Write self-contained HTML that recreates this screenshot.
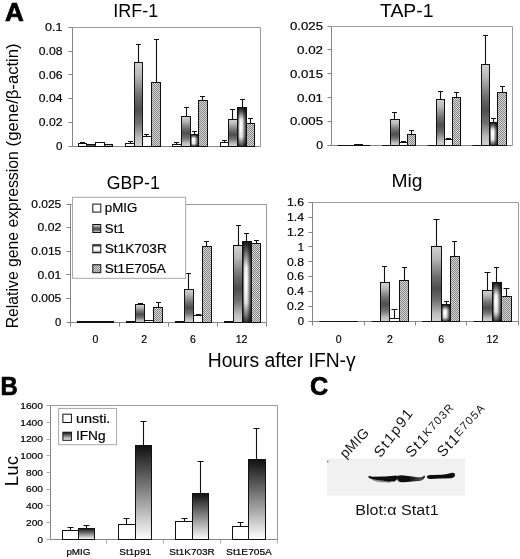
<!DOCTYPE html><html><head><meta charset="utf-8"><style>html,body{margin:0;padding:0;background:#fff;}svg{display:block;filter:grayscale(100%);}text{font-family:"Liberation Sans", sans-serif;} .v{stroke:#000;stroke-width:0.18px;paint-order:stroke;}</style></head><body>
<svg width="520" height="559" viewBox="0 0 520 559">
<defs>
<linearGradient id="gSt1" x1="0" y1="0" x2="0" y2="1">
<stop offset="0" stop-color="#d2d2d2"/><stop offset="0.15" stop-color="#bababa"/><stop offset="0.4" stop-color="#6e6e6e"/><stop offset="0.56" stop-color="#4e4e4e"/><stop offset="0.72" stop-color="#707070"/><stop offset="0.9" stop-color="#bebebe"/><stop offset="1" stop-color="#d4d4d4"/></linearGradient>
<linearGradient id="gK" x1="0" y1="0" x2="0" y2="1">
<stop offset="0" stop-color="#151515"/><stop offset="0.12" stop-color="#606060"/><stop offset="0.32" stop-color="#f0f0f0"/><stop offset="0.5" stop-color="#ffffff"/><stop offset="0.75" stop-color="#e6e6e6"/><stop offset="0.92" stop-color="#707070"/><stop offset="1" stop-color="#303030"/></linearGradient>
<linearGradient id="gKh" x1="0" y1="0" x2="1" y2="0">
<stop offset="0" stop-color="#000" stop-opacity="0.95"/><stop offset="0.25" stop-color="#000" stop-opacity="0"/><stop offset="0.5" stop-color="#000" stop-opacity="0"/><stop offset="1" stop-color="#000" stop-opacity="0.9"/></linearGradient>
<pattern id="pE" width="2" height="2" patternUnits="userSpaceOnUse">
<rect width="2" height="2" fill="#d8d8d8"/><rect width="1" height="1" fill="#858585"/><rect x="1" y="1" width="1" height="1" fill="#858585"/></pattern>
<linearGradient id="gIFN" x1="0" y1="0" x2="0" y2="1">
<stop offset="0" stop-color="#101010"/><stop offset="1" stop-color="#ffffff"/></linearGradient>
<filter id="blur1" x="-20%" y="-50%" width="140%" height="200%"><feGaussianBlur stdDeviation="0.6"/></filter>
<linearGradient id="gL2" x1="0" y1="0" x2="1" y2="0"><stop offset="0" stop-color="#111"/><stop offset="0.45" stop-color="#111"/><stop offset="0.85" stop-color="#4a4a4a"/><stop offset="1" stop-color="#222"/></linearGradient>
</defs>
<rect width="520" height="559" fill="#fff"/>
<text x="4.9" y="20.6" font-size="25.5" text-anchor="start" font-weight="bold" fill="#000" textLength="18.8" lengthAdjust="spacingAndGlyphs" stroke="#000" stroke-width="0.7">A</text>
<text x="135.75" y="16.9" font-size="19" text-anchor="middle" font-weight="normal" fill="#000" textLength="45" lengthAdjust="spacingAndGlyphs" >IRF-1</text>
<text x="406.75" y="16.8" font-size="19" text-anchor="middle" font-weight="normal" fill="#000" textLength="53.5" lengthAdjust="spacingAndGlyphs" >TAP-1</text>
<text x="133.25" y="188.8" font-size="19" text-anchor="middle" font-weight="normal" fill="#000" textLength="53" lengthAdjust="spacingAndGlyphs" >GBP-1</text>
<text x="406.9" y="186.6" font-size="19" text-anchor="middle" font-weight="normal" fill="#000" textLength="31" lengthAdjust="spacingAndGlyphs" >Mig</text>
<path d="M72.5 27.5H260.5V146.5" fill="none" stroke="#9a9a9a" stroke-width="1"/>
<path d="M72.5 27.5V146.5" stroke="#858585" stroke-width="1" fill="none"/>
<path d="M72.5 146.5H260.5" stroke="#858585" stroke-width="1" fill="none"/>
<path d="M68.5 146.50H72.5" stroke="#858585" stroke-width="1"/>
<text x="62.5" y="149.80" font-size="11" text-anchor="end" font-weight="normal" fill="#000" textLength="6.5" lengthAdjust="spacingAndGlyphs" class="v">0</text>
<path d="M68.5 122.50H72.5" stroke="#858585" stroke-width="1"/>
<text x="62.5" y="126.10" font-size="11" text-anchor="end" font-weight="normal" fill="#000" textLength="23.7" lengthAdjust="spacingAndGlyphs" class="v">0.02</text>
<path d="M68.5 98.50H72.5" stroke="#858585" stroke-width="1"/>
<text x="62.5" y="102.40" font-size="11" text-anchor="end" font-weight="normal" fill="#000" textLength="23.7" lengthAdjust="spacingAndGlyphs" class="v">0.04</text>
<path d="M68.5 74.50H72.5" stroke="#858585" stroke-width="1"/>
<text x="62.5" y="78.70" font-size="11" text-anchor="end" font-weight="normal" fill="#000" textLength="23.7" lengthAdjust="spacingAndGlyphs" class="v">0.06</text>
<path d="M68.5 51.50H72.5" stroke="#858585" stroke-width="1"/>
<text x="62.5" y="55.00" font-size="11" text-anchor="end" font-weight="normal" fill="#000" textLength="23.7" lengthAdjust="spacingAndGlyphs" class="v">0.08</text>
<path d="M68.5 27.50H72.5" stroke="#858585" stroke-width="1"/>
<text x="62.5" y="31.30" font-size="11" text-anchor="end" font-weight="normal" fill="#000" textLength="17.5" lengthAdjust="spacingAndGlyphs" class="v">0.1</text>
<rect x="78.50" y="143.50" width="8.00" height="3.00" fill="#fff" stroke="#111" stroke-width="1"/>
<path d="M82.50 143.50V142.50M80.00 142.50H85.00" stroke="#111" stroke-width="1.1" fill="none"/>
<rect x="86.50" y="144.50" width="9.00" height="2.00" fill="url(#gSt1)" stroke="#111" stroke-width="1"/>
<rect x="95.50" y="142.50" width="9.00" height="4.00" fill="#fff" stroke="#111" stroke-width="1"/>
<rect x="104.50" y="144.50" width="8.00" height="2.00" fill="url(#pE)" stroke="#111" stroke-width="1"/>
<rect x="125.50" y="143.50" width="9.00" height="3.00" fill="#fff" stroke="#111" stroke-width="1"/>
<path d="M130.50 143.50V141.50M128.00 141.50H133.00" stroke="#111" stroke-width="1.1" fill="none"/>
<rect x="134.50" y="62.50" width="8.00" height="84.00" fill="url(#gSt1)" stroke="#111" stroke-width="1"/>
<path d="M138.50 62.50V44.50M136.00 44.50H141.00" stroke="#111" stroke-width="1.1" fill="none"/>
<rect x="142.50" y="136.50" width="9.00" height="10.00" fill="#fff" stroke="#111" stroke-width="1"/>
<path d="M146.50 136.50V134.50M144.00 134.50H149.00" stroke="#111" stroke-width="1.1" fill="none"/>
<rect x="151.50" y="82.50" width="9.00" height="64.00" fill="url(#pE)" stroke="#111" stroke-width="1"/>
<path d="M156.50 82.50V39.50M154.00 39.50H159.00" stroke="#111" stroke-width="1.1" fill="none"/>
<rect x="172.50" y="144.50" width="9.00" height="2.00" fill="#fff" stroke="#111" stroke-width="1"/>
<path d="M176.50 144.50V142.50M174.00 142.50H179.00" stroke="#111" stroke-width="1.1" fill="none"/>
<rect x="181.50" y="116.50" width="9.00" height="30.00" fill="url(#gSt1)" stroke="#111" stroke-width="1"/>
<path d="M186.50 116.50V107.50M184.00 107.50H189.00" stroke="#111" stroke-width="1.1" fill="none"/>
<rect x="190.50" y="134.50" width="8.00" height="12.00" fill="url(#gK)"/>
<rect x="190.50" y="134.50" width="8.00" height="12.00" fill="url(#gKh)" stroke="#111" stroke-width="1"/>
<path d="M194.50 134.50V131.50M192.00 131.50H197.00" stroke="#111" stroke-width="1.1" fill="none"/>
<rect x="198.50" y="100.50" width="9.00" height="46.00" fill="url(#pE)" stroke="#111" stroke-width="1"/>
<path d="M202.50 100.50V96.50M200.00 96.50H205.00" stroke="#111" stroke-width="1.1" fill="none"/>
<rect x="220.50" y="142.50" width="8.00" height="4.00" fill="#fff" stroke="#111" stroke-width="1"/>
<path d="M224.50 142.50V140.50M222.00 140.50H227.00" stroke="#111" stroke-width="1.1" fill="none"/>
<rect x="228.50" y="119.50" width="9.00" height="27.00" fill="url(#gSt1)" stroke="#111" stroke-width="1"/>
<path d="M232.50 119.50V109.50M230.00 109.50H235.00" stroke="#111" stroke-width="1.1" fill="none"/>
<rect x="237.50" y="107.50" width="9.00" height="39.00" fill="url(#gK)"/>
<rect x="237.50" y="107.50" width="9.00" height="39.00" fill="url(#gKh)" stroke="#111" stroke-width="1"/>
<path d="M242.50 107.50V99.50M240.00 99.50H245.00" stroke="#111" stroke-width="1.1" fill="none"/>
<rect x="246.50" y="123.50" width="8.00" height="23.00" fill="url(#pE)" stroke="#111" stroke-width="1"/>
<path d="M250.50 123.50V118.50M248.00 118.50H253.00" stroke="#111" stroke-width="1.1" fill="none"/>
<path d="M331.5 26.5H512.5V145.5" fill="none" stroke="#9a9a9a" stroke-width="1"/>
<path d="M331.5 26.5V145.5" stroke="#858585" stroke-width="1" fill="none"/>
<path d="M331.5 145.5H512.5" stroke="#858585" stroke-width="1" fill="none"/>
<path d="M327.5 145.50H331.5" stroke="#858585" stroke-width="1"/>
<text x="323" y="149.40" font-size="11" text-anchor="end" font-weight="normal" fill="#000" textLength="6.8" lengthAdjust="spacingAndGlyphs" class="v">0</text>
<path d="M327.5 121.50H331.5" stroke="#858585" stroke-width="1"/>
<text x="323" y="125.48" font-size="11" text-anchor="end" font-weight="normal" fill="#000" textLength="33" lengthAdjust="spacingAndGlyphs" class="v">0.005</text>
<path d="M327.5 97.50H331.5" stroke="#858585" stroke-width="1"/>
<text x="323" y="101.56" font-size="11" text-anchor="end" font-weight="normal" fill="#000" textLength="26" lengthAdjust="spacingAndGlyphs" class="v">0.01</text>
<path d="M327.5 73.50H331.5" stroke="#858585" stroke-width="1"/>
<text x="323" y="77.64" font-size="11" text-anchor="end" font-weight="normal" fill="#000" textLength="33" lengthAdjust="spacingAndGlyphs" class="v">0.015</text>
<path d="M327.5 49.50H331.5" stroke="#858585" stroke-width="1"/>
<text x="323" y="53.72" font-size="11" text-anchor="end" font-weight="normal" fill="#000" textLength="26" lengthAdjust="spacingAndGlyphs" class="v">0.02</text>
<path d="M327.5 26.50H331.5" stroke="#858585" stroke-width="1"/>
<text x="323" y="29.80" font-size="11" text-anchor="end" font-weight="normal" fill="#000" textLength="33" lengthAdjust="spacingAndGlyphs" class="v">0.025</text>
<path d="M337.50 145.50H345.50" stroke="#111" stroke-width="1"/>
<path d="M345.50 145.50H354.50" stroke="#111" stroke-width="1"/>
<rect x="354.50" y="144.50" width="8.00" height="1.00" fill="#fff" stroke="#111" stroke-width="1"/>
<path d="M362.50 145.50H370.50" stroke="#111" stroke-width="1"/>
<path d="M382.50 145.50H390.50" stroke="#111" stroke-width="1"/>
<rect x="390.50" y="119.50" width="9.00" height="26.00" fill="url(#gSt1)" stroke="#111" stroke-width="1"/>
<path d="M394.50 119.50V112.50M392.00 112.50H397.00" stroke="#111" stroke-width="1.1" fill="none"/>
<rect x="399.50" y="142.50" width="8.00" height="3.00" fill="#fff" stroke="#111" stroke-width="1"/>
<path d="M403.50 142.50V141.50M401.00 141.50H406.00" stroke="#111" stroke-width="1.1" fill="none"/>
<rect x="407.50" y="134.50" width="8.00" height="11.00" fill="url(#pE)" stroke="#111" stroke-width="1"/>
<path d="M411.50 134.50V130.50M409.00 130.50H414.00" stroke="#111" stroke-width="1.1" fill="none"/>
<path d="M427.50 145.50H436.50" stroke="#111" stroke-width="1"/>
<rect x="436.50" y="99.50" width="8.00" height="46.00" fill="url(#gSt1)" stroke="#111" stroke-width="1"/>
<path d="M440.50 99.50V91.50M438.00 91.50H443.00" stroke="#111" stroke-width="1.1" fill="none"/>
<rect x="444.50" y="139.50" width="8.00" height="6.00" fill="#fff" stroke="#111" stroke-width="1"/>
<path d="M448.50 139.50V138.50M446.00 138.50H451.00" stroke="#111" stroke-width="1.1" fill="none"/>
<rect x="452.50" y="97.50" width="8.00" height="48.00" fill="url(#pE)" stroke="#111" stroke-width="1"/>
<path d="M456.50 97.50V92.50M454.00 92.50H459.00" stroke="#111" stroke-width="1.1" fill="none"/>
<path d="M472.50 145.50H481.50" stroke="#111" stroke-width="1"/>
<rect x="481.50" y="64.50" width="8.00" height="81.00" fill="url(#gSt1)" stroke="#111" stroke-width="1"/>
<path d="M485.50 64.50V35.50M483.00 35.50H488.00" stroke="#111" stroke-width="1.1" fill="none"/>
<rect x="489.50" y="122.50" width="8.00" height="23.00" fill="url(#gK)"/>
<rect x="489.50" y="122.50" width="8.00" height="23.00" fill="url(#gKh)" stroke="#111" stroke-width="1"/>
<path d="M493.50 122.50V118.50M491.00 118.50H496.00" stroke="#111" stroke-width="1.1" fill="none"/>
<rect x="497.50" y="92.50" width="9.00" height="53.00" fill="url(#pE)" stroke="#111" stroke-width="1"/>
<path d="M502.50 92.50V86.50M500.00 86.50H505.00" stroke="#111" stroke-width="1.1" fill="none"/>
<path d="M70.5 204.5H266.5V322.5" fill="none" stroke="#9a9a9a" stroke-width="1"/>
<path d="M70.5 204.5V326.5" stroke="#858585" stroke-width="1" fill="none"/>
<path d="M70.5 322.5H266.5" stroke="#858585" stroke-width="1" fill="none"/>
<path d="M66.5 322.50H70.5" stroke="#858585" stroke-width="1"/>
<text x="61.3" y="326.00" font-size="10.5" text-anchor="end" font-weight="normal" fill="#000" textLength="6.3" lengthAdjust="spacingAndGlyphs" class="v">0</text>
<path d="M66.5 298.50H70.5" stroke="#858585" stroke-width="1"/>
<text x="61.3" y="302.36" font-size="10.5" text-anchor="end" font-weight="normal" fill="#000" textLength="30" lengthAdjust="spacingAndGlyphs" class="v">0.005</text>
<path d="M66.5 274.50H70.5" stroke="#858585" stroke-width="1"/>
<text x="61.3" y="278.72" font-size="10.5" text-anchor="end" font-weight="normal" fill="#000" textLength="23.7" lengthAdjust="spacingAndGlyphs" class="v">0.01</text>
<path d="M66.5 251.50H70.5" stroke="#858585" stroke-width="1"/>
<text x="61.3" y="255.08" font-size="10.5" text-anchor="end" font-weight="normal" fill="#000" textLength="30" lengthAdjust="spacingAndGlyphs" class="v">0.015</text>
<path d="M66.5 227.50H70.5" stroke="#858585" stroke-width="1"/>
<text x="61.3" y="231.44" font-size="10.5" text-anchor="end" font-weight="normal" fill="#000" textLength="23.7" lengthAdjust="spacingAndGlyphs" class="v">0.02</text>
<path d="M66.5 204.50H70.5" stroke="#858585" stroke-width="1"/>
<text x="61.3" y="207.80" font-size="10.5" text-anchor="end" font-weight="normal" fill="#000" textLength="30" lengthAdjust="spacingAndGlyphs" class="v">0.025</text>
<path d="M119.50 322.5V326.5" stroke="#858585" stroke-width="1"/>
<path d="M168.50 322.5V326.5" stroke="#858585" stroke-width="1"/>
<path d="M217.50 322.5V326.5" stroke="#858585" stroke-width="1"/>
<path d="M266.50 322.5V326.5" stroke="#858585" stroke-width="1"/>
<rect x="77.50" y="321.50" width="9.00" height="1.00" fill="#fff" stroke="#111" stroke-width="1"/>
<rect x="86.50" y="321.50" width="9.00" height="1.00" fill="url(#gSt1)" stroke="#111" stroke-width="1"/>
<rect x="95.50" y="321.50" width="9.00" height="1.00" fill="#fff" stroke="#111" stroke-width="1"/>
<rect x="104.50" y="321.50" width="9.00" height="1.00" fill="url(#pE)" stroke="#111" stroke-width="1"/>
<rect x="126.50" y="321.50" width="9.00" height="1.00" fill="#fff" stroke="#111" stroke-width="1"/>
<rect x="135.50" y="304.50" width="9.00" height="18.00" fill="url(#gSt1)" stroke="#111" stroke-width="1"/>
<path d="M140.50 304.50V303.50M138.00 303.50H143.00" stroke="#111" stroke-width="1.1" fill="none"/>
<rect x="144.50" y="320.50" width="9.00" height="2.00" fill="#fff" stroke="#111" stroke-width="1"/>
<rect x="153.50" y="307.50" width="9.00" height="15.00" fill="url(#pE)" stroke="#111" stroke-width="1"/>
<path d="M158.50 307.50V302.50M156.00 302.50H161.00" stroke="#111" stroke-width="1.1" fill="none"/>
<rect x="175.50" y="321.50" width="9.00" height="1.00" fill="#fff" stroke="#111" stroke-width="1"/>
<rect x="184.50" y="289.50" width="9.00" height="33.00" fill="url(#gSt1)" stroke="#111" stroke-width="1"/>
<path d="M188.50 289.50V273.50M186.00 273.50H191.00" stroke="#111" stroke-width="1.1" fill="none"/>
<rect x="193.50" y="315.50" width="9.00" height="7.00" fill="#fff" stroke="#111" stroke-width="1"/>
<path d="M198.50 315.50V314.50M196.00 314.50H201.00" stroke="#111" stroke-width="1.1" fill="none"/>
<rect x="202.50" y="246.50" width="9.00" height="76.00" fill="url(#pE)" stroke="#111" stroke-width="1"/>
<path d="M206.50 246.50V241.50M204.00 241.50H209.00" stroke="#111" stroke-width="1.1" fill="none"/>
<rect x="224.50" y="321.50" width="9.00" height="1.00" fill="#fff" stroke="#111" stroke-width="1"/>
<rect x="233.50" y="245.50" width="9.00" height="77.00" fill="url(#gSt1)" stroke="#111" stroke-width="1"/>
<path d="M238.50 245.50V225.50M236.00 225.50H241.00" stroke="#111" stroke-width="1.1" fill="none"/>
<rect x="242.50" y="241.50" width="9.00" height="81.00" fill="url(#gK)"/>
<rect x="242.50" y="241.50" width="9.00" height="81.00" fill="url(#gKh)" stroke="#111" stroke-width="1"/>
<path d="M246.50 241.50V233.50M244.00 233.50H249.00" stroke="#111" stroke-width="1.1" fill="none"/>
<rect x="251.50" y="243.50" width="9.00" height="79.00" fill="url(#pE)" stroke="#111" stroke-width="1"/>
<path d="M256.50 243.50V240.50M254.00 240.50H259.00" stroke="#111" stroke-width="1.1" fill="none"/>
<path d="M312.5 202.5H518.5V321.5" fill="none" stroke="#9a9a9a" stroke-width="1"/>
<path d="M312.5 202.5V325.5" stroke="#858585" stroke-width="1" fill="none"/>
<path d="M312.5 321.5H518.5" stroke="#858585" stroke-width="1" fill="none"/>
<path d="M308.5 321.50H312.5" stroke="#858585" stroke-width="1"/>
<text x="304" y="325.00" font-size="10.5" text-anchor="end" font-weight="normal" fill="#000" textLength="6.3" lengthAdjust="spacingAndGlyphs" class="v">0</text>
<path d="M308.5 306.50H312.5" stroke="#858585" stroke-width="1"/>
<text x="304" y="310.14" font-size="10.5" text-anchor="end" font-weight="normal" fill="#000" textLength="17" lengthAdjust="spacingAndGlyphs" class="v">0.2</text>
<path d="M308.5 291.50H312.5" stroke="#858585" stroke-width="1"/>
<text x="304" y="295.28" font-size="10.5" text-anchor="end" font-weight="normal" fill="#000" textLength="17" lengthAdjust="spacingAndGlyphs" class="v">0.4</text>
<path d="M308.5 276.50H312.5" stroke="#858585" stroke-width="1"/>
<text x="304" y="280.41" font-size="10.5" text-anchor="end" font-weight="normal" fill="#000" textLength="17" lengthAdjust="spacingAndGlyphs" class="v">0.6</text>
<path d="M308.5 261.50H312.5" stroke="#858585" stroke-width="1"/>
<text x="304" y="265.55" font-size="10.5" text-anchor="end" font-weight="normal" fill="#000" textLength="17" lengthAdjust="spacingAndGlyphs" class="v">0.8</text>
<path d="M308.5 246.50H312.5" stroke="#858585" stroke-width="1"/>
<text x="304" y="250.69" font-size="10.5" text-anchor="end" font-weight="normal" fill="#000" textLength="6.3" lengthAdjust="spacingAndGlyphs" class="v">1</text>
<path d="M308.5 232.50H312.5" stroke="#858585" stroke-width="1"/>
<text x="304" y="235.83" font-size="10.5" text-anchor="end" font-weight="normal" fill="#000" textLength="17" lengthAdjust="spacingAndGlyphs" class="v">1.2</text>
<path d="M308.5 217.50H312.5" stroke="#858585" stroke-width="1"/>
<text x="304" y="220.96" font-size="10.5" text-anchor="end" font-weight="normal" fill="#000" textLength="17" lengthAdjust="spacingAndGlyphs" class="v">1.4</text>
<path d="M308.5 202.50H312.5" stroke="#858585" stroke-width="1"/>
<text x="304" y="206.10" font-size="10.5" text-anchor="end" font-weight="normal" fill="#000" textLength="17" lengthAdjust="spacingAndGlyphs" class="v">1.6</text>
<path d="M364.50 321.5V325.5" stroke="#858585" stroke-width="1"/>
<path d="M415.50 321.5V325.5" stroke="#858585" stroke-width="1"/>
<path d="M466.50 321.5V325.5" stroke="#858585" stroke-width="1"/>
<path d="M518.50 321.5V325.5" stroke="#858585" stroke-width="1"/>
<path d="M319.50 321.50H329.50" stroke="#111" stroke-width="1"/>
<path d="M329.50 321.50H338.50" stroke="#111" stroke-width="1"/>
<path d="M338.50 321.50H348.50" stroke="#111" stroke-width="1"/>
<path d="M348.50 321.50H357.50" stroke="#111" stroke-width="1"/>
<path d="M371.50 321.50H380.50" stroke="#111" stroke-width="1"/>
<rect x="380.50" y="282.50" width="9.00" height="39.00" fill="url(#gSt1)" stroke="#111" stroke-width="1"/>
<path d="M384.50 282.50V266.50M382.00 266.50H387.00" stroke="#111" stroke-width="1.1" fill="none"/>
<rect x="389.50" y="318.50" width="10.00" height="3.00" fill="#fff" stroke="#111" stroke-width="1"/>
<path d="M394.50 318.50V309.50M391.50 309.50H397.50" stroke="#111" stroke-width="1.1" fill="none"/>
<rect x="399.50" y="280.50" width="9.00" height="41.00" fill="url(#pE)" stroke="#111" stroke-width="1"/>
<path d="M404.50 280.50V267.50M402.00 267.50H407.00" stroke="#111" stroke-width="1.1" fill="none"/>
<path d="M422.50 321.50H431.50" stroke="#111" stroke-width="1"/>
<rect x="431.50" y="246.50" width="10.00" height="75.00" fill="url(#gSt1)" stroke="#111" stroke-width="1"/>
<path d="M436.50 246.50V219.50M433.50 219.50H439.50" stroke="#111" stroke-width="1.1" fill="none"/>
<rect x="441.50" y="304.50" width="9.00" height="17.00" fill="url(#gK)"/>
<rect x="441.50" y="304.50" width="9.00" height="17.00" fill="url(#gKh)" stroke="#111" stroke-width="1"/>
<path d="M446.50 304.50V301.50M444.00 301.50H449.00" stroke="#111" stroke-width="1.1" fill="none"/>
<rect x="450.50" y="256.50" width="9.00" height="65.00" fill="url(#pE)" stroke="#111" stroke-width="1"/>
<path d="M454.50 256.50V241.50M452.00 241.50H457.00" stroke="#111" stroke-width="1.1" fill="none"/>
<path d="M473.50 321.50H482.50" stroke="#111" stroke-width="1"/>
<rect x="482.50" y="290.50" width="10.00" height="31.00" fill="url(#gSt1)" stroke="#111" stroke-width="1"/>
<path d="M487.50 290.50V272.50M484.50 272.50H490.50" stroke="#111" stroke-width="1.1" fill="none"/>
<rect x="492.50" y="282.50" width="9.00" height="39.00" fill="url(#gK)"/>
<rect x="492.50" y="282.50" width="9.00" height="39.00" fill="url(#gKh)" stroke="#111" stroke-width="1"/>
<path d="M496.50 282.50V267.50M494.00 267.50H499.00" stroke="#111" stroke-width="1.1" fill="none"/>
<rect x="501.50" y="296.50" width="10.00" height="25.00" fill="url(#pE)" stroke="#111" stroke-width="1"/>
<path d="M506.50 296.50V288.50M503.50 288.50H509.50" stroke="#111" stroke-width="1.1" fill="none"/>
<rect x="72.5" y="197.3" width="113.2" height="81" fill="#fff" stroke="#a8a8a8" stroke-width="1"/>
<rect x="92.8" y="204.1" width="8" height="8" fill="#fff" stroke="#111" stroke-width="1"/>
<text x="104.8" y="212.1" font-size="12.4" text-anchor="start" font-weight="normal" fill="#000" textLength="32.5" lengthAdjust="spacingAndGlyphs" class="v">pMIG</text>
<rect x="92.8" y="224.5" width="8" height="8" fill="url(#gSt1)" stroke="#111" stroke-width="1"/>
<text x="104.8" y="232.5" font-size="12.4" text-anchor="start" font-weight="normal" fill="#000" textLength="19.9" lengthAdjust="spacingAndGlyphs" class="v">St1</text>
<rect x="92.8" y="244.8" width="8" height="8" fill="url(#gK)" stroke="#111" stroke-width="1"/>
<text x="104.8" y="252.8" font-size="12.4" text-anchor="start" font-weight="normal" fill="#000" textLength="61.9" lengthAdjust="spacingAndGlyphs" class="v">St1K703R</text>
<rect x="92.8" y="264.7" width="8" height="8" fill="url(#pE)" stroke="#111" stroke-width="1"/>
<text x="104.8" y="272.7" font-size="12.4" text-anchor="start" font-weight="normal" fill="#000" textLength="61.1" lengthAdjust="spacingAndGlyphs" class="v">St1E705A</text>
<text x="95.4" y="342.7" font-size="10.5" text-anchor="middle" font-weight="normal" fill="#000" class="v">0</text>
<text x="144.1" y="342.7" font-size="10.5" text-anchor="middle" font-weight="normal" fill="#000" class="v">2</text>
<text x="192.9" y="342.7" font-size="10.5" text-anchor="middle" font-weight="normal" fill="#000" class="v">6</text>
<text x="241.6" y="342.7" font-size="10.5" text-anchor="middle" font-weight="normal" fill="#000" class="v">12</text>
<text x="338.6" y="342.5" font-size="10.5" text-anchor="middle" font-weight="normal" fill="#000" class="v">0</text>
<text x="389.9" y="342.5" font-size="10.5" text-anchor="middle" font-weight="normal" fill="#000" class="v">2</text>
<text x="441.1" y="342.5" font-size="10.5" text-anchor="middle" font-weight="normal" fill="#000" class="v">6</text>
<text x="492.4" y="342.5" font-size="10.5" text-anchor="middle" font-weight="normal" fill="#000" class="v">12</text>
<text x="281.7" y="367" font-size="19.6" text-anchor="middle" font-weight="normal" fill="#000" textLength="148" lengthAdjust="spacingAndGlyphs" >Hours after IFN-&#947;</text>
<text transform="translate(17.6,328.3) rotate(-90)" x="0" y="0" font-size="16.2" textLength="177" lengthAdjust="spacingAndGlyphs">Relative gene expression</text>
<text transform="translate(17.6,146.4) rotate(-90)" x="0" y="0" font-size="16.2" textLength="103" lengthAdjust="spacingAndGlyphs">(gene/&#946;-actin)</text>
<text x="0.6" y="395.4" font-size="26.5" text-anchor="start" font-weight="bold" fill="#000" textLength="17.2" lengthAdjust="spacingAndGlyphs" stroke="#000" stroke-width="0.7">B</text>
<path d="M50.5 405.5H277.5V539.5" fill="none" stroke="#9a9a9a" stroke-width="1"/>
<path d="M50.5 405.5V539.5" stroke="#858585" stroke-width="1" fill="none"/>
<path d="M50.5 539.5H277.5" stroke="#858585" stroke-width="1" fill="none"/>
<path d="M46.5 539.50H50.5" stroke="#aaa" stroke-width="1"/>
<text x="43" y="542.50" font-size="9" text-anchor="end" font-weight="normal" fill="#000" textLength="5.5" lengthAdjust="spacingAndGlyphs" class="v">0</text>
<path d="M46.5 522.50H50.5" stroke="#aaa" stroke-width="1"/>
<text x="43" y="525.79" font-size="9" text-anchor="end" font-weight="normal" fill="#000" textLength="17" lengthAdjust="spacingAndGlyphs" class="v">200</text>
<path d="M46.5 505.50H50.5" stroke="#aaa" stroke-width="1"/>
<text x="43" y="509.07" font-size="9" text-anchor="end" font-weight="normal" fill="#000" textLength="17" lengthAdjust="spacingAndGlyphs" class="v">400</text>
<path d="M46.5 489.50H50.5" stroke="#aaa" stroke-width="1"/>
<text x="43" y="492.36" font-size="9" text-anchor="end" font-weight="normal" fill="#000" textLength="17" lengthAdjust="spacingAndGlyphs" class="v">600</text>
<path d="M46.5 472.50H50.5" stroke="#aaa" stroke-width="1"/>
<text x="43" y="475.65" font-size="9" text-anchor="end" font-weight="normal" fill="#000" textLength="17" lengthAdjust="spacingAndGlyphs" class="v">800</text>
<path d="M46.5 455.50H50.5" stroke="#aaa" stroke-width="1"/>
<text x="43" y="458.94" font-size="9" text-anchor="end" font-weight="normal" fill="#000" textLength="22.8" lengthAdjust="spacingAndGlyphs" class="v">1000</text>
<path d="M46.5 439.50H50.5" stroke="#aaa" stroke-width="1"/>
<text x="43" y="442.22" font-size="9" text-anchor="end" font-weight="normal" fill="#000" textLength="22.8" lengthAdjust="spacingAndGlyphs" class="v">1200</text>
<path d="M46.5 422.50H50.5" stroke="#aaa" stroke-width="1"/>
<text x="43" y="425.51" font-size="9" text-anchor="end" font-weight="normal" fill="#000" textLength="22.8" lengthAdjust="spacingAndGlyphs" class="v">1400</text>
<path d="M46.5 405.50H50.5" stroke="#aaa" stroke-width="1"/>
<text x="43" y="408.80" font-size="9" text-anchor="end" font-weight="normal" fill="#000" textLength="22.8" lengthAdjust="spacingAndGlyphs" class="v">1600</text>
<path d="M106.50 539.5V543.5" stroke="#aaa" stroke-width="1"/>
<path d="M163.50 539.5V543.5" stroke="#aaa" stroke-width="1"/>
<path d="M220.50 539.5V543.5" stroke="#aaa" stroke-width="1"/>
<path d="M277.50 539.5V543.5" stroke="#aaa" stroke-width="1"/>
<rect x="62.50" y="530.50" width="16.00" height="9.00" fill="#fff" stroke="#111" stroke-width="1"/>
<path d="M70.50 530.50V527.50M67.50 527.50H73.50" stroke="#111" stroke-width="1.1" fill="none"/>
<rect x="78.50" y="528.50" width="16.00" height="11.00" fill="url(#gIFN)" stroke="#111" stroke-width="1"/>
<path d="M86.50 528.50V525.50M83.50 525.50H89.50" stroke="#111" stroke-width="1.1" fill="none"/>
<rect x="118.50" y="524.50" width="17.00" height="15.00" fill="#fff" stroke="#111" stroke-width="1"/>
<path d="M126.50 524.50V518.50M123.50 518.50H129.50" stroke="#111" stroke-width="1.1" fill="none"/>
<rect x="135.50" y="445.50" width="16.00" height="94.00" fill="url(#gIFN)" stroke="#111" stroke-width="1"/>
<path d="M143.50 445.50V421.50M140.50 421.50H146.50" stroke="#111" stroke-width="1.1" fill="none"/>
<rect x="175.50" y="521.50" width="17.00" height="18.00" fill="#fff" stroke="#111" stroke-width="1"/>
<path d="M184.50 521.50V518.50M181.50 518.50H187.50" stroke="#111" stroke-width="1.1" fill="none"/>
<rect x="192.50" y="493.50" width="16.00" height="46.00" fill="url(#gIFN)" stroke="#111" stroke-width="1"/>
<path d="M200.50 493.50V461.50M197.50 461.50H203.50" stroke="#111" stroke-width="1.1" fill="none"/>
<rect x="232.50" y="526.50" width="16.00" height="13.00" fill="#fff" stroke="#111" stroke-width="1"/>
<path d="M240.50 526.50V522.50M237.50 522.50H243.50" stroke="#111" stroke-width="1.1" fill="none"/>
<rect x="248.50" y="459.50" width="17.00" height="80.00" fill="url(#gIFN)" stroke="#111" stroke-width="1"/>
<path d="M256.50 459.50V428.50M253.50 428.50H259.50" stroke="#111" stroke-width="1.1" fill="none"/>
<rect x="58.6" y="408.4" width="58" height="36.3" fill="#fff" stroke="#a8a8a8" stroke-width="1"/>
<rect x="62.9" y="414.2" width="8.5" height="8.3" fill="#fff" stroke="#111" stroke-width="1"/>
<rect x="62.9" y="432.2" width="8.5" height="8.1" fill="url(#gIFN)" stroke="#111" stroke-width="1"/>
<text x="75.9" y="422.5" font-size="12.4" text-anchor="start" font-weight="normal" fill="#000" textLength="34.5" lengthAdjust="spacingAndGlyphs" class="v">unsti.</text>
<text x="75.9" y="440.3" font-size="12.4" text-anchor="start" font-weight="normal" fill="#000" textLength="29.6" lengthAdjust="spacingAndGlyphs" class="v">IFNg</text>
<text x="78.4" y="554.7" font-size="9" text-anchor="middle" font-weight="normal" fill="#000" textLength="24" lengthAdjust="spacingAndGlyphs" class="v">pMIG</text>
<text x="135.2" y="554.7" font-size="9" text-anchor="middle" font-weight="normal" fill="#000" textLength="31.8" lengthAdjust="spacingAndGlyphs" class="v">St1p91</text>
<text x="192" y="554.7" font-size="9" text-anchor="middle" font-weight="normal" fill="#000" textLength="45.4" lengthAdjust="spacingAndGlyphs" class="v">St1K703R</text>
<text x="249" y="554.7" font-size="9" text-anchor="middle" font-weight="normal" fill="#000" textLength="45.8" lengthAdjust="spacingAndGlyphs" class="v">St1E705A</text>
<text transform="translate(18.2,471.1) rotate(-90)" x="0" y="0" font-size="18" text-anchor="middle" textLength="30.2" lengthAdjust="spacingAndGlyphs">Luc</text>
<text x="310.1" y="395.0" font-size="26" text-anchor="start" font-weight="bold" fill="#000" textLength="18.2" lengthAdjust="spacingAndGlyphs" stroke="#000" stroke-width="0.7">C</text>
<rect x="327.2" y="458.4" width="137.9" height="37.3" fill="#f1f1f1"/>
<circle cx="327.8" cy="461.5" r="0.9" fill="#888"/>
<g filter="url(#blur1)">
<path d="M370 478.3 Q374 481.8 380 482.3 L391 482.4 L391 481 Q382 480.6 376 479.2 Z" fill="#8e8e8e"/>
<path d="M368.2 477 C368.5 475.6 370.6 475.6 372 476.8 L385 476.5 L394 475.7 Q396 475.1 397.2 476 L397.6 478.5 Q396.6 480.2 394.5 481.4 L388 481.6 L378 479.9 Q374 479.6 372 478.9 Q369 478.6 368.2 477 Z" fill="#0e0e0e"/>
<path d="M397 476 Q400 474.9 404 475.5 L414 476.7 Q419 477.5 422 477.1 Q423.5 475.7 424.7 475.5 L425.1 477 Q424 479.6 421 480.7 L412 481.6 Q405 482.3 400 482.1 Q398 481.6 397.4 480 Z" fill="url(#gL2)"/>
<path d="M426.9 476.2 Q428 474.9 432 475.1 L442 474.7 Q448 474.1 451 472.9 Q454.6 472.1 455.1 474.5 Q455.1 477.7 451 478.2 L440 478.5 L430 479.1 Q427.5 478.9 426.9 477.5 Z" fill="#0e0e0e"/>
</g>
<text transform="translate(345.5,459) scale(1,1.0) rotate(-46)" font-size="14" letter-spacing="0.3" fill="#151515"><tspan>pMIG</tspan></text>
<text transform="translate(380.5,458.5) scale(1,1.1) rotate(-51)" font-size="14.2" letter-spacing="1.4" fill="#151515"><tspan>St1p91</tspan></text>
<text transform="translate(411.5,458.5) scale(1,1.05) rotate(-46)" font-size="14.5" letter-spacing="1.2" fill="#151515"><tspan>St1</tspan><tspan font-size="11" dy="-2.5">K703R</tspan></text>
<text transform="translate(443,458) scale(1,1.04) rotate(-46)" font-size="14.5" letter-spacing="1.2" fill="#151515"><tspan>St1</tspan><tspan font-size="11" dy="-2.5">E705A</tspan></text>
<text x="355.2" y="515.3" font-size="15.4" text-anchor="start" font-weight="normal" fill="#151515" textLength="83.4" lengthAdjust="spacingAndGlyphs" >Blot:&#945; Stat1</text>
</svg></body></html>
